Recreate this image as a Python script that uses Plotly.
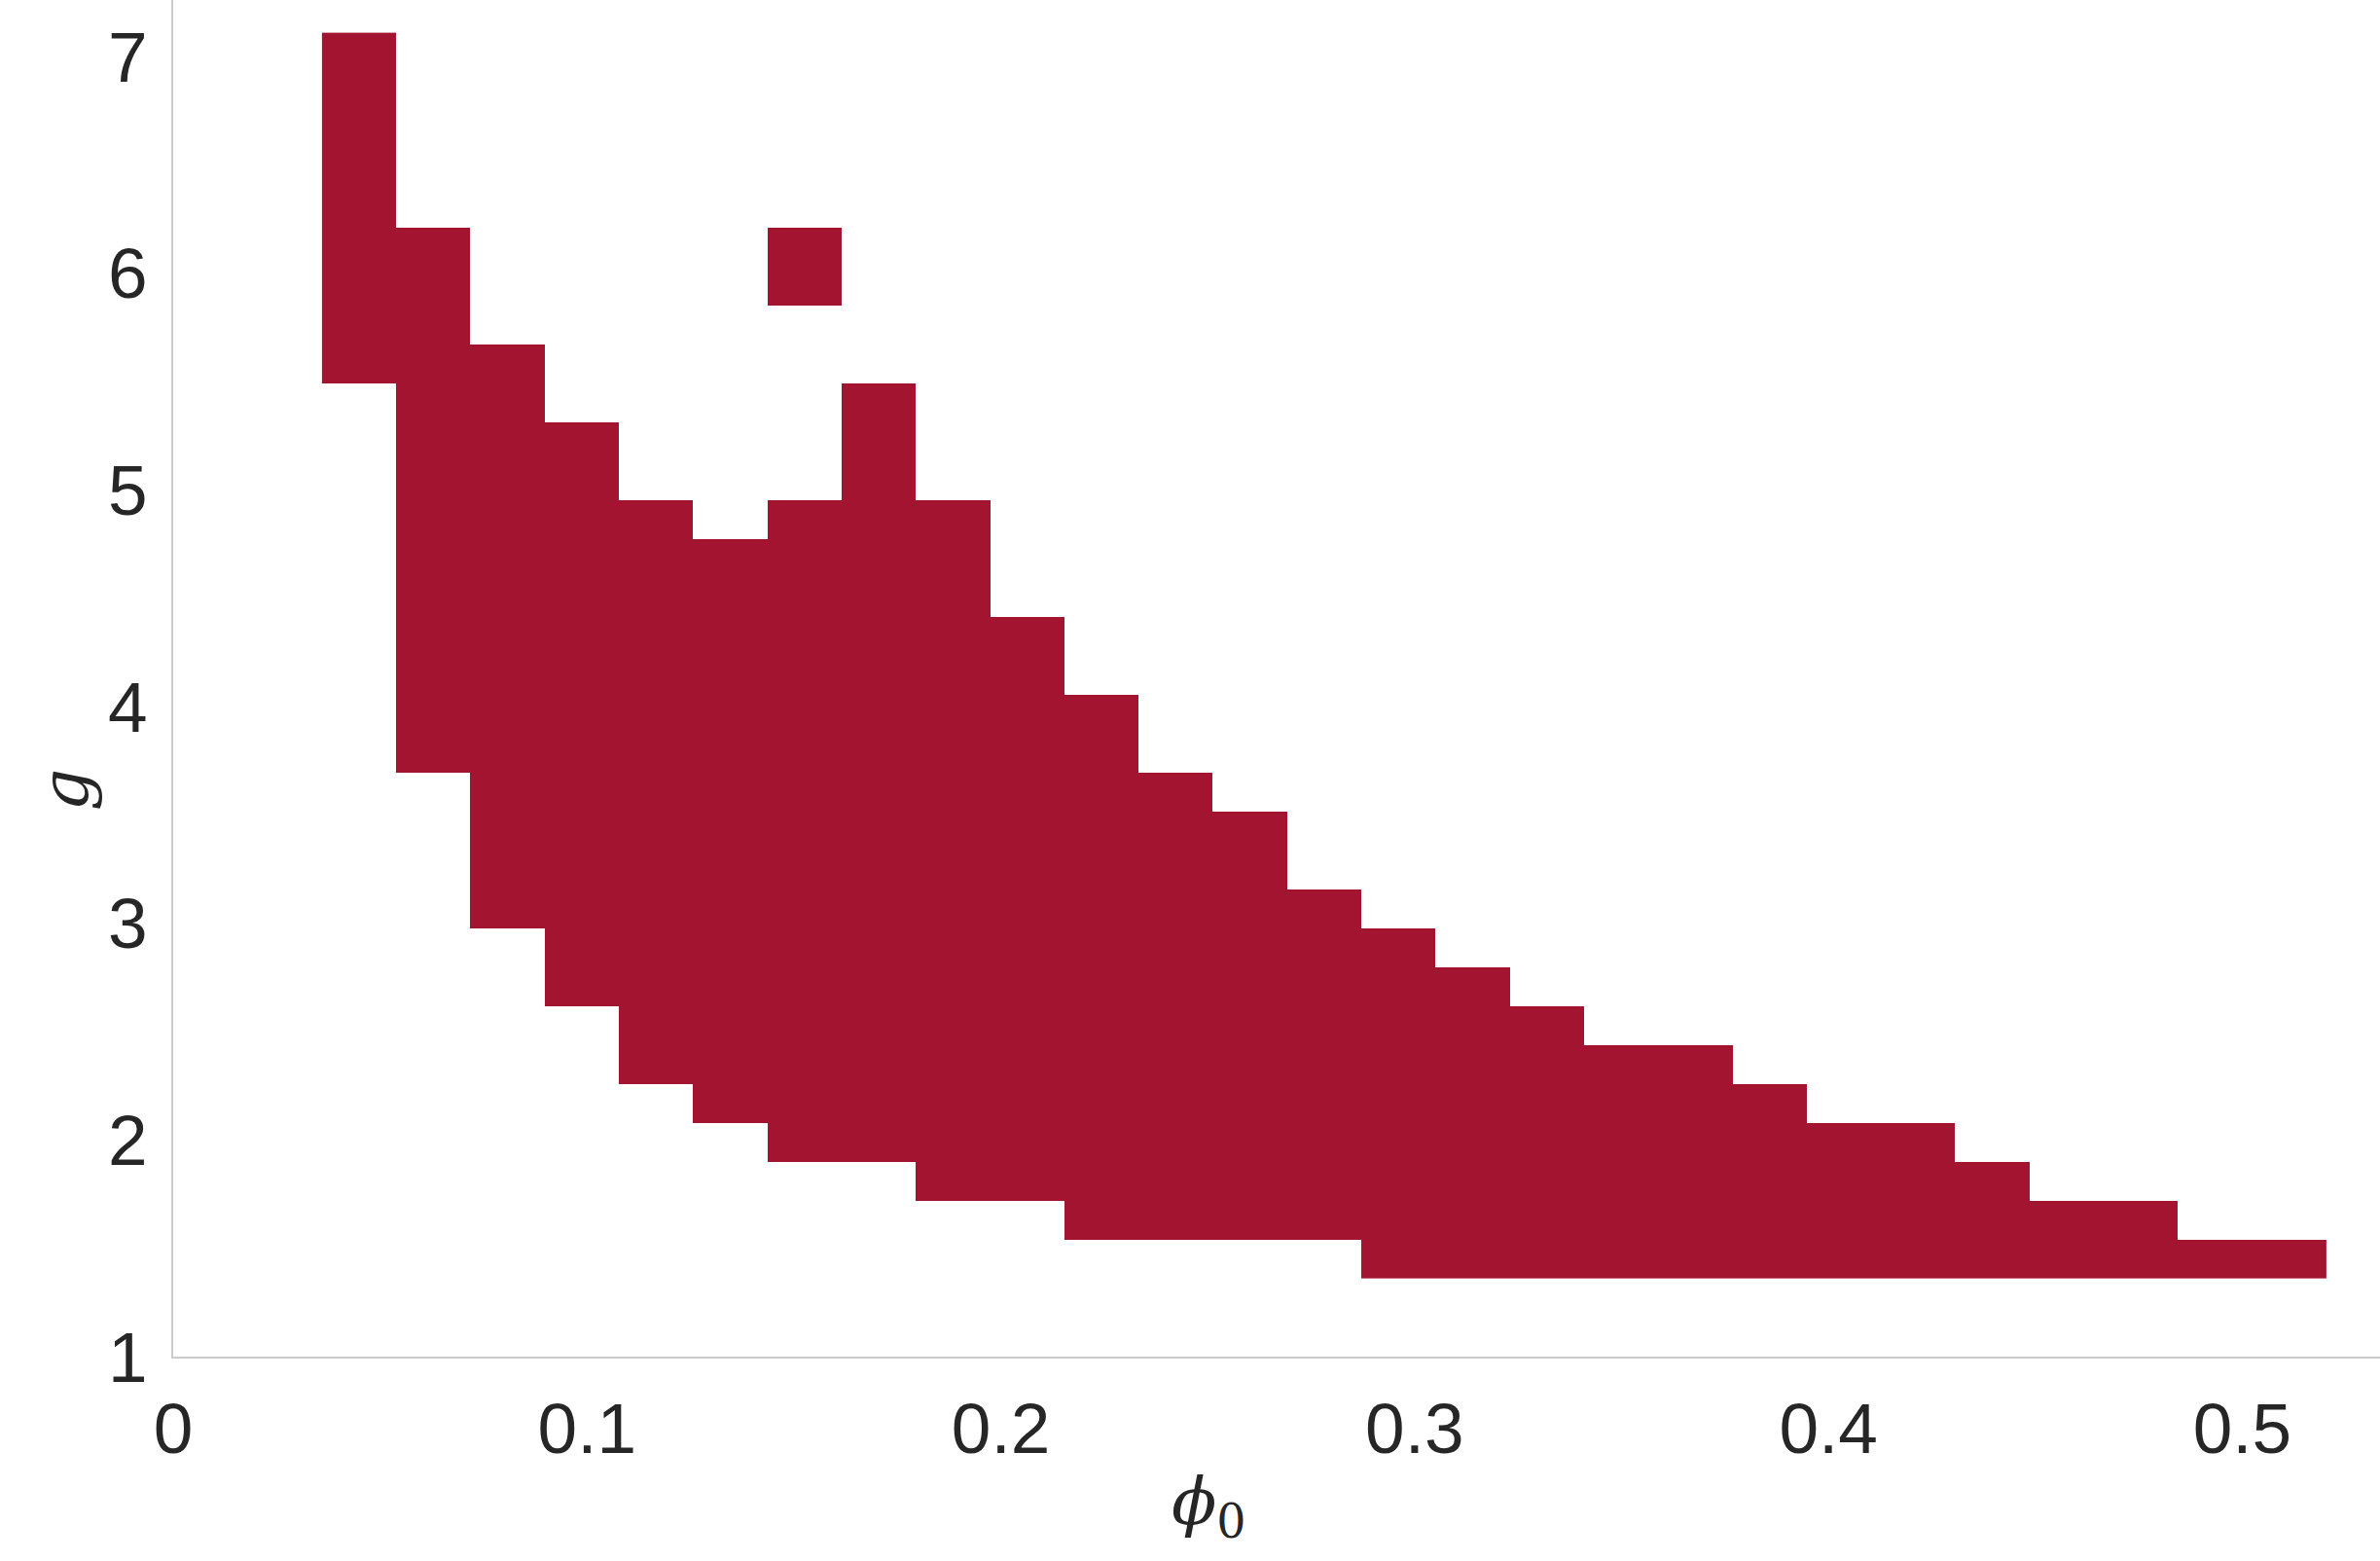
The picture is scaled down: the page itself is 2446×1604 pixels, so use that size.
import plotly.graph_objects as go

# Grid (cell centres)
phi0 = [0.0449, 0.0628, 0.0807, 0.0987, 0.1166, 0.1346, 0.1525, 0.1705, 0.1884,
        0.2063, 0.2243, 0.2422, 0.2602, 0.2781, 0.2961, 0.3140, 0.3319, 0.3499,
        0.3678, 0.3858, 0.4037, 0.4217, 0.4396, 0.4576, 0.4755, 0.4934, 0.5114]
g_vals = [1.452, 1.631, 1.811, 1.991, 2.170, 2.350, 2.530, 2.709, 2.889, 3.068,
          3.248, 3.428, 3.607, 3.787, 3.966, 4.146, 4.326, 4.505, 4.685, 4.864,
          5.044, 5.224, 5.403, 5.583, 5.762, 5.942, 6.122, 6.301, 6.481, 6.661,
          6.840, 7.020]

# Filled region per phi0 column: lowest and highest g row index
col_bottom = [23, 13, 9, 7, 5, 4, 3, 3, 2, 2, 1, 1, 1, 1, 0, 0, 0, 0, 0, 0, 0, 0, 0, 0, 0, 0, 0]
col_top = [31, 26, 23, 21, 19, 18, 19, 22, 19, 16, 14, 12, 11, 9, 8, 7, 6, 5, 5, 4, 3, 3, 2, 1, 1, 0, 0]
# Isolated filled cells (column index, row index)
extra_cells = [(6, 25), (6, 26)]

x_ticks = [0, 0.1, 0.2, 0.3, 0.4, 0.5]
x_ticktext = ["0", "0.1", "0.2", "0.3", "0.4", "0.5"]
y_ticks = [1, 2, 3, 4, 5, 6, 7]
y_ticktext = ["1", "2", "3", "4", "5", "6", "7"]

FILL = "#A2142F"

z = [[None for _ in phi0] for _ in g_vals]
for ci in range(len(phi0)):
    for ri in range(col_bottom[ci], col_top[ci] + 1):
        z[ri][ci] = 1
for ci, ri in extra_cells:
    z[ri][ci] = 1

fig = go.Figure(go.Heatmap(
    x=phi0, y=g_vals, z=z,
    colorscale=[[0, FILL], [1, FILL]],
    showscale=False, hoverinfo="skip", zmin=0, zmax=1,
))

W, H = 2446, 1604
L, B = 178, 210
fig.update_layout(
    width=W, height=H,
    margin=dict(l=L, r=0, t=0, b=B, pad=0),
    paper_bgcolor="white", plot_bgcolor="white",
    font=dict(family="Liberation Sans, Arial, sans-serif", color="#262626"),
    showlegend=False,
)
fig.update_xaxes(
    range=[0, 0.5333], tickvals=x_ticks, ticktext=x_ticktext,
    showgrid=False, zeroline=False, showline=True, linecolor="#cccccc", linewidth=1.5,
    ticks="", tickfont=dict(size=73, color="#262626"), ticklabelstandoff=10,
)
fig.update_yaxes(
    range=[1, 7.261], tickvals=y_ticks, ticktext=y_ticktext,
    showgrid=False, zeroline=False, showline=True, linecolor="#cccccc", linewidth=1.5,
    ticks="", tickfont=dict(size=73, color="#262626"), ticklabelstandoff=10,
)

fig.add_annotation(
    text="<i>ϕ</i><sub>0</sub>", xref="paper", yref="paper",
    x=0.4692, y=-0.110, xanchor="center", yanchor="middle", showarrow=False,
    font=dict(family="DejaVu Serif, serif", size=68, color="#262626"),
)
fig.add_annotation(
    text="<i>g</i>", xref="paper", yref="paper",
    x=-0.0488, y=0.4183, xanchor="center", yanchor="middle", showarrow=False,
    textangle=-90,
    font=dict(family="DejaVu Serif, serif", size=68, color="#262626"),
)

fig.write_html(
    "out.html",
    config={"displayModeBar": False},
    post_script="document.body.style.margin='0';document.body.style.overflow='hidden';",
)
